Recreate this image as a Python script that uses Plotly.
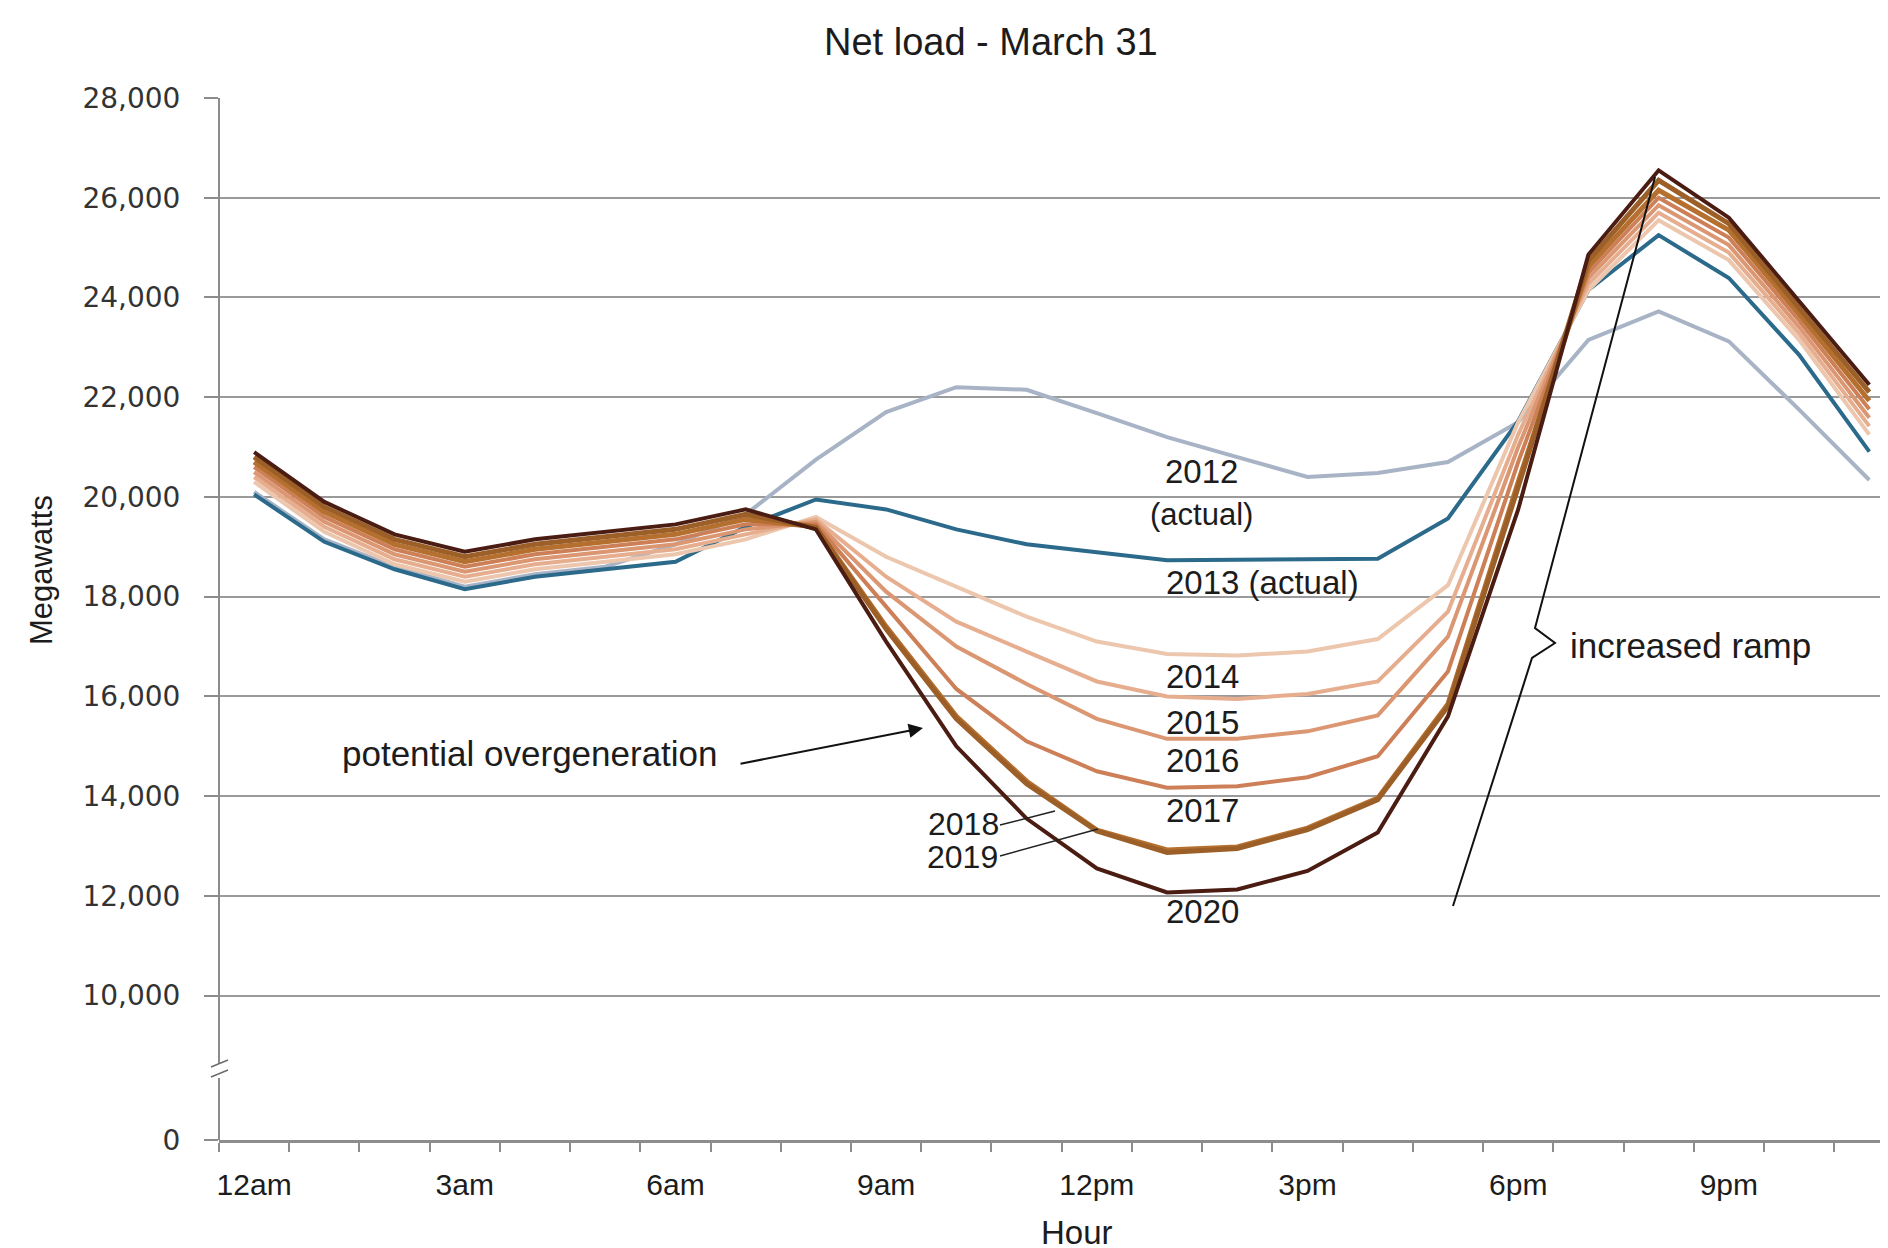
import plotly.graph_objects as go

# ---------------- data ----------------
hours = list(range(24))
tick_hours = [0, 3, 6, 9, 12, 15, 18, 21]
tick_labels = ["12am", "3am", "6am", "9am", "12pm", "3pm", "6pm", "9pm"]
y_grid_values = [10000, 12000, 14000, 16000, 18000, 20000, 22000, 24000, 26000, 28000]
y_grid_labels = ["10,000", "12,000", "14,000", "16,000", "18,000", "20,000",
                 "22,000", "24,000", "26,000", "28,000"]
break_value = 7105          # axis position of the "0" label (broken axis)
break_label = "0"

years = ["2012", "2013", "2014", "2015", "2016", "2017", "2018", "2019", "2020"]

load_2012 = [20100, 19150, 18600, 18200, 18450, 18600, 19050, 19650, 20750, 21700, 22200, 22150,
             21680, 21200, 20800, 20400, 20480, 20700, 21500, 23150, 23720, 23120, 21750, 20340]
load_2013 = [20050, 19100, 18550, 18150, 18400, 18550, 18700, 19400, 19950, 19750, 19350, 19050,
             18880, 18730, 18740, 18740, 18760, 19570, 21520, 24150, 25250, 24390, 22850, 20910]
load_2014 = [20300, 19300, 18650, 18300, 18550, 18700, 18850, 19150, 19600, 18800, 18200, 17600,
             17100, 16850, 16820, 16900, 17150, 18230, 21500, 24150, 25550, 24750, 23150, 21250]
load_2015 = [20400, 19400, 18750, 18400, 18650, 18800, 18950, 19250, 19550, 18400, 17500, 16900,
             16300, 16000, 15950, 16050, 16300, 17700, 21250, 24270, 25700, 24900, 23280, 21420]
load_2016 = [20500, 19500, 18850, 18500, 18750, 18900, 19050, 19350, 19500, 18100, 17000, 16250,
             15550, 15150, 15150, 15300, 15620, 17200, 21000, 24390, 25850, 25050, 23410, 21590]
load_2017 = [20600, 19600, 18950, 18600, 18850, 19000, 19150, 19450, 19450, 17800, 16150, 15100,
             14500, 14170, 14200, 14380, 14800, 16500, 20700, 24500, 26000, 25200, 23540, 21760]
load_2018 = [20700, 19700, 19050, 18700, 18950, 19100, 19250, 19550, 19400, 17400, 15600, 14300,
             13320, 12920, 12980, 13360, 13960, 15850, 20300, 24620, 26150, 25350, 23670, 21930]
load_2019 = [20800, 19800, 19150, 18800, 19050, 19200, 19350, 19650, 19380, 17350, 15550, 14250,
             13300, 12870, 12950, 13330, 13930, 15800, 20200, 24740, 26350, 25480, 23800, 22100]
load_2020 = [20900, 19900, 19250, 18900, 19150, 19300, 19450, 19750, 19350, 17100, 15000, 13550,
             12550, 12070, 12130, 12500, 13270, 15600, 19750, 24860, 26550, 25600, 23920, 22250]

series = [load_2012, load_2013, load_2014, load_2015, load_2016,
          load_2017, load_2018, load_2019, load_2020]

# ---------------- style ----------------
colors = ["#A8B4C6", "#2B6A8A", "#EDC6AE", "#E6AE8F", "#DB9672",
          "#CD8058", "#B5702F", "#9C5F28", "#4A1C12"]
widths = [4, 4, 4, 4, 4, 4, 5, 5, 4]

W, H = 1888, 1248
PL, PT, PR, PB = 211, 90, 0, 116
PW, PH = W - PL - PR, H - PT - PB
X0, X1 = -0.5, 23.38
Y0, Y1 = break_value, 28000

FONT = "Liberation Sans, Arial, sans-serif"
TXT = "#1c1c1c"
GRID = "#9a9a9a"


def px(x):   # pixel -> paper x
    return (x - PL) / PW


def py(y):   # pixel -> paper y
    return (PT + PH - y) / PH


fig = go.Figure()
for name, vals, c, w in zip(years, series, colors, widths):
    fig.add_trace(go.Scatter(x=hours, y=vals, mode="lines", name=name,
                             line=dict(color=c, width=w), showlegend=False,
                             hoverinfo="skip"))

shapes = []
# y-axis line with a break
shapes.append(dict(type="line", xref="paper", yref="paper", x0=0, x1=0,
                   y0=py(PT), y1=py(1056), line=dict(color="#8c8c8c", width=2)))
shapes.append(dict(type="line", xref="paper", yref="paper", x0=0, x1=0,
                   y0=py(1070), y1=py(PT + PH), line=dict(color="#8c8c8c", width=2)))
for dy in (0, 10):
    shapes.append(dict(type="line", xref="paper", yref="paper",
                       x0=px(203), x1=px(220), y0=py(1063 + dy - 4), y1=py(1056 + dy - 4),
                       line=dict(color="#6c6c6c", width=1.5)))

# "increased ramp" line with brace
ramp_pts = [(1445, 898), (1524, 650), (1547, 635), (1527, 620), (1647, 169)]
path = "M " + " L ".join(f"{px(a):.5f},{py(b):.5f}" for a, b in ramp_pts)
shapes.append(dict(type="path", xref="paper", yref="paper", path=path,
                   line=dict(color="#111111", width=2)))

# leader lines for 2018 / 2019
shapes.append(dict(type="line", xref="paper", yref="paper", x0=px(992), y0=py(817),
                   x1=px(1047), y1=py(803), line=dict(color="#222222", width=1.5)))
shapes.append(dict(type="line", xref="paper", yref="paper", x0=px(992), y0=py(848),
                   x1=px(1090), y1=py(821), line=dict(color="#222222", width=1.5)))

annotations = []


def label(text, x, y, size=33, anchor="left"):
    annotations.append(dict(text=text, xref="paper", yref="paper", x=px(x), y=py(y),
                            xanchor=anchor, yanchor="middle", showarrow=False,
                            font=dict(family=FONT, size=size, color=TXT)))


label("Net load - March 31", 983, 34, size=38, anchor="center")
label("2012", 1193, 463, anchor="center")
label("(actual)", 1193, 506, size=31, anchor="center")
label("2013 (actual)", 1156, 574)
label("2014", 1156, 668)
label("2015", 1156, 714)
label("2016", 1156, 752)
label("2017", 1156, 802)
label("2018", 918, 816, size=32)
label("2019", 917, 849, size=32)
label("2020", 1156, 903)
label("increased ramp", 1560, 638, size=35)
label("potential overgeneration", 332, 745, size=35)
label("Hour", 1069, 1224, size=33, anchor="center")
annotations.append(dict(text="Megawatts", xref="paper", yref="paper", x=px(33), y=py(562),
                        xanchor="center", yanchor="middle", showarrow=False, textangle=-90,
                        font=dict(family=FONT, size=31, color=TXT)))
# arrow for potential overgeneration
annotations.append(dict(text="", xref="paper", yref="paper", x=px(915), y=py(720),
                        ax=731 - 915, ay=756 - 720, axref="pixel", ayref="pixel",
                        showarrow=True, arrowhead=2, arrowsize=1.3, arrowwidth=2.2,
                        arrowcolor="#111111", standoff=0))

fig.update_layout(
    width=W, height=H,
    margin=dict(l=PL, r=PR, t=PT, b=PB),
    paper_bgcolor="white", plot_bgcolor="white",
    shapes=shapes, annotations=annotations,
    xaxis=dict(range=[X0, X1], tickmode="array", tickvals=tick_hours, ticktext=tick_labels,
               ticks="outside", ticklen=9, tickcolor="rgba(0,0,0,0)",
               tickfont=dict(family=FONT, size=30, color=TXT), ticklabelstandoff=7,
               showgrid=False, zeroline=False, showline=True, linecolor="#8c8c8c", linewidth=3,
               minor=dict(tickmode="array", tickvals=[h - 0.5 for h in hours] + [23.5],
                          ticks="outside", ticklen=9, tickwidth=2, tickcolor="#8c8c8c",
                          showgrid=False)),
    yaxis=dict(range=[Y0, Y1], tickmode="array",
               tickvals=[break_value] + y_grid_values,
               ticktext=[break_label] + y_grid_labels,
               ticks="outside", ticklen=14, tickwidth=2, tickcolor="#8c8c8c",
               tickfont=dict(family="DejaVu Sans, sans-serif", size=28, color="#333333"),
               ticklabelstandoff=18,
               showgrid=True, gridcolor=GRID, gridwidth=2, zeroline=False, showline=False),
)

fig.write_html("out.html")
